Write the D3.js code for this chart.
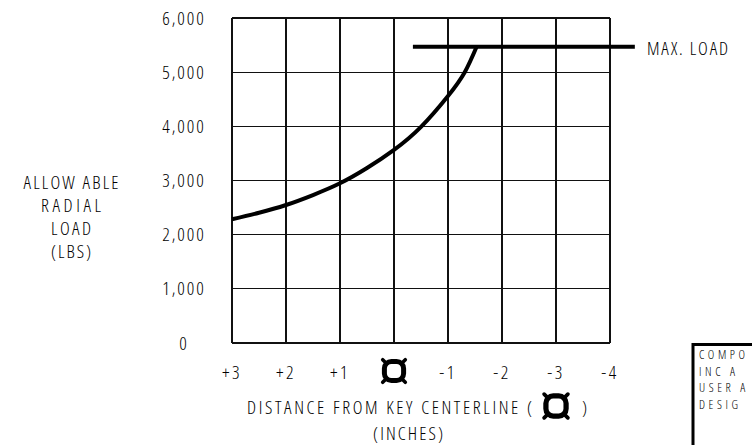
<!DOCTYPE html>
<html>
<head>
<meta charset="utf-8">
<script src="https://cdn.jsdelivr.net/npm/d3@7/dist/d3.min.js"></script>
<style>
  html, body { margin: 0; padding: 0; background: #fff; overflow: hidden; }
  svg { display: block; }
  text { font-family: "Open Sans", "DejaVu Sans", sans-serif; font-weight: 300; font-stretch: condensed; fill: #000; }
</style>
</head>
<body>
<svg id="chart" width="752" height="445"></svg>
<script>
// ---- data ----
const xTicks = [3, 2, 1, 0, -1, -2, -3, -4];
const xTickLabels = ["+3", "+2", "+1", "", "-1", "-2", "-3", "-4"];
const yTicks = [0, 1000, 2000, 3000, 4000, 5000, 6000];
const curveX = [3, 2.5, 2, 1.5, 1, 0.5, 0, -0.5, -1, -1.31, -1.53];
const curveY = [2285, 2405, 2548, 2732, 2948, 3230, 3565, 3990, 4560, 5000, 5470];
const maxLoad = 5470;
const maxLoadX = [-0.35, -4.46];
const yTitleLines = ["ALLOW ABLE", "RADIAL", "LOAD", "(LBS)"];
const xTitle = "DISTANCE FROM KEY CENTERLINE (";
const xSubTitle = "(INCHES)";
const maxLabel = "MAX. LOAD";
const noteLines = ["COMPO", "INC A", "USER A", "DESIG"];

// ---- layout ----
const svg = d3.select("#chart");
const x = d3.scaleLinear().domain([3, -4]).range([232, 610]);
const y = d3.scaleLinear().domain([0, 6000]).range([343, 18]);
const FS = 18.5;

// grid
const grid = svg.append("g").attr("stroke", "#111").attr("stroke-width", 1.2).attr("shape-rendering", "crispEdges");
grid.selectAll("line.v").data(xTicks).join("line").attr("class", "v")
  .attr("x1", d => x(d)).attr("x2", d => x(d))
  .attr("y1", y(0)).attr("y2", y(6000));
grid.selectAll("line.h").data(yTicks).join("line").attr("class", "h")
  .attr("x1", x(3)).attr("x2", x(-4))
  .attr("y1", d => y(d)).attr("y2", d => y(d));

// y tick labels
svg.append("g").selectAll("text").data(yTicks).join("text")
  .attr("x", 184).attr("y", d => y(d)).attr("dy", "0.36em")
  .attr("text-anchor", "middle").attr("font-size", FS).attr("letter-spacing", 2)
  .text(d => d3.format(",")(d));

// x tick labels
svg.append("g").selectAll("text").data(xTicks.map((d, i) => ({ v: d, t: xTickLabels[i] })).filter(d => d.t)).join("text")
  .attr("x", d => x(d.v)).attr("y", 372).attr("dy", "0.36em")
  .attr("text-anchor", "middle").attr("font-size", FS).attr("letter-spacing", 2.5)
  .text(d => d.t);

// centerline symbol
function clSymbol(g, cx, cy, s) {
  const r = 9.6 * s, a = 8 * s, c = 11.3 * s;
  const gg = g.append("g").attr("transform", `translate(${cx},${cy})`)
    .attr("fill", "none").attr("stroke", "#000").attr("stroke-linecap", "round");
  gg.append("rect").attr("x", -r).attr("y", -r).attr("width", 2 * r).attr("height", 2 * r)
    .attr("rx", 7 * s).attr("stroke-width", 5 * s);
  gg.append("path")
    .attr("d", `M${-a},${-a} L${-c},${-c} M${a},${-a} L${c},${-c} M${a},${a} L${c},${c} M${-a},${a} L${-c},${c}`)
    .attr("stroke-width", 3.6 * s);
}
clSymbol(svg, x(0), 371, 1);

// curve
const line = d3.line().x(d => x(d[0])).y(d => y(d[1])).curve(d3.curveNatural);
svg.append("path").datum(curveX.map((d, i) => [d, curveY[i]]))
  .attr("d", line).attr("fill", "none").attr("stroke", "#000").attr("stroke-width", 4);

// max load line
svg.append("line").attr("x1", x(maxLoadX[0])).attr("x2", x(maxLoadX[1]))
  .attr("y1", y(maxLoad)).attr("y2", y(maxLoad))
  .attr("stroke", "#000").attr("stroke-width", 4);
svg.append("text").attr("x", 647).attr("y", 48).attr("dy", "0.36em")
  .attr("font-size", FS).attr("textLength", 81).attr("lengthAdjust", "spacing").text(maxLabel);

// y title
const yTitleW = [95, 60, 40, 40];
svg.append("g").selectAll("text").data(yTitleLines).join("text")
  .attr("x", 71).attr("y", (d, i) => 182 + i * 23).attr("dy", "0.36em")
  .attr("text-anchor", "middle").attr("font-size", FS)
  .attr("textLength", (d, i) => yTitleW[i]).attr("lengthAdjust", "spacing")
  .text(d => d);

// x title
svg.append("text").attr("x", 247).attr("y", 407).attr("dy", "0.36em")
  .attr("font-size", FS).attr("textLength", 285).attr("lengthAdjust", "spacing").text(xTitle);
clSymbol(svg, 556, 406, 1.05);
svg.append("text").attr("x", 582).attr("y", 407).attr("dy", "0.36em")
  .attr("font-size", FS).text(")");
svg.append("text").attr("x", 373).attr("y", 433).attr("dy", "0.36em")
  .attr("font-size", FS).attr("textLength", 70).attr("lengthAdjust", "spacing").text(xSubTitle);

// note box (clipped by window edge)
svg.append("path").attr("d", "M693,460 L693,344.5 L770,344.5")
  .attr("fill", "none").attr("stroke", "#000").attr("stroke-width", 3);
svg.append("g").selectAll("text").data(noteLines).join("text")
  .attr("x", 699).attr("y", (d, i) => 355 + i * 16.4).attr("dy", "0.36em")
  .attr("font-size", 12.3).attr("letter-spacing", 3.6)
  .text(d => d);
</script>
</body>
</html>
